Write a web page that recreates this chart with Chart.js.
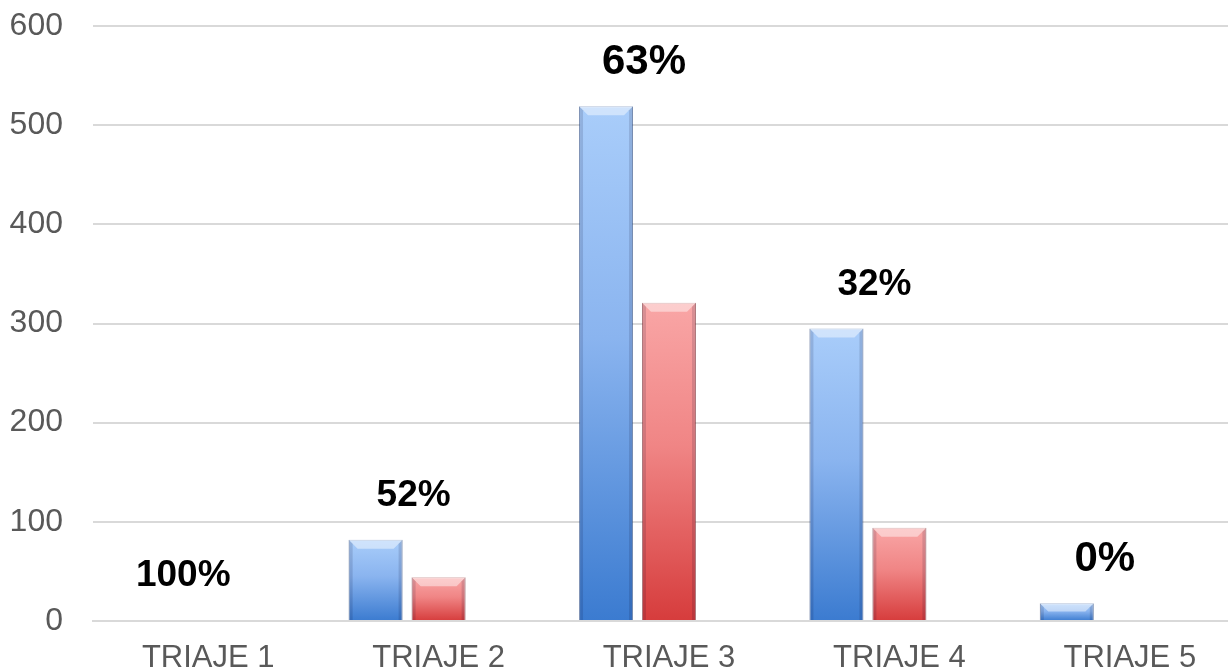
<!DOCTYPE html>
<html>
<head>
<meta charset="utf-8">
<script src="https://cdn.jsdelivr.net/npm/chart.js"></script>
<style>
  html, body { margin: 0; padding: 0; background: #fff; overflow: hidden; }
  canvas { display: block; }
</style>
</head>
<body>
<canvas id="triaje" width="1250" height="672"></canvas>
<script>
const categories = ['TRIAJE 1', 'TRIAJE 2', 'TRIAJE 3', 'TRIAJE 4', 'TRIAJE 5'];
const totalSeries = [1, 82, 519, 295, 18];
const ingresoSeries = [1, 44, 321, 94, 0];
const percentLabels = ['100%', '52%', '63%', '32%', '0%'];
const yTicks = [0, 100, 200, 300, 400, 500, 600];

const FONT = '"Liberation Sans", Arial, sans-serif';
// the 63% and 0% labels are drawn bigger in the original
const bigLabel = new Set([2, 4]);

// vertical gradient spanning each bar (Excel style)
function barGradient(ctx, light, mid, dark) {
    const chart = ctx.chart;
    if (!chart.chartArea || ctx.raw == null) return mid;
    const y = chart.scales.y;
    const top = y.getPixelForValue(ctx.raw);
    const base = y.getPixelForValue(0);
    if (base - top < 1) return mid;
    const g = chart.ctx.createLinearGradient(0, top, 0, base);
    g.addColorStop(0, light);
    g.addColorStop(0.45, mid);
    g.addColorStop(1, dark);
    return g;
}

const bevelPlugin = {
    id: 'bevel',
    afterDatasetsDraw(chart) {
        const ctx = chart.ctx;
        [0, 1].forEach(di => {
            chart.getDatasetMeta(di).data.forEach(bar => {
                const h = bar.base - bar.y;
                if (h < 3) return;
                const l = bar.x - bar.width / 2, r = bar.x + bar.width / 2;
                const b = Math.min(9, h / 2);
                ctx.save();
                ctx.fillStyle = 'rgba(255,255,255,0.45)';
                ctx.beginPath();
                ctx.moveTo(l, bar.y);
                ctx.lineTo(r, bar.y);
                ctx.lineTo(r - b, bar.y + b);
                ctx.lineTo(l + b, bar.y + b);
                ctx.closePath();
                ctx.fill();
                ctx.fillStyle = 'rgba(0,0,40,0.13)';
                ctx.beginPath();
                ctx.moveTo(r, bar.y);
                ctx.lineTo(r, bar.base);
                ctx.lineTo(r - 4, bar.base);
                ctx.lineTo(r - 4, bar.y + 4);
                ctx.closePath();
                ctx.fill();
                ctx.beginPath();
                ctx.moveTo(l, bar.y);
                ctx.lineTo(l, bar.base);
                ctx.lineTo(l + 4, bar.base);
                ctx.lineTo(l + 4, bar.y + 4);
                ctx.closePath();
                ctx.fill();
                ctx.restore();
            });
        });
    }
};

const percentPlugin = {
    id: 'percentLabels',
    afterDatasetsDraw(chart) {
        const ctx = chart.ctx;
        ctx.save();
        ctx.fillStyle = '#000';
        ctx.textAlign = 'center';
        ctx.textBaseline = 'middle';
        chart.getDatasetMeta(0).data.forEach((bar, i) => {
            ctx.font = 'bold ' + (bigLabel.has(i) ? 42 : 37) + 'px ' + FONT;
            ctx.fillText(percentLabels[i], bar.x + 38, bar.y - 44);
        });
        ctx.restore();
    }
};

new Chart(document.getElementById('triaje'), {
    type: 'bar',
    data: {
        labels: categories,
        datasets: [
            {
                label: 'Total',
                data: totalSeries,
                backgroundColor: c => barGradient(c, '#a9cdfa', '#8ab4ef', '#3b7bd0'),
                borderColor: 'rgba(60,100,160,0.6)',
                borderWidth: 1
            },
            {
                label: 'Ingreso',
                data: ingresoSeries,
                backgroundColor: c => barGradient(c, '#f9a6a6', '#f08585', '#d63c3c'),
                borderColor: 'rgba(160,60,60,0.6)',
                borderWidth: 1
            },
            {
                label: '',
                data: categories.map(() => null),
                backgroundColor: 'rgba(0,0,0,0)'
            }
        ]
    },
    options: {
        responsive: false,
        animation: false,
        categoryPercentage: 0.82,
        barPercentage: 0.857,
        layout: { padding: { top: 26, right: 5, bottom: 0, left: 0 } },
        plugins: {
            legend: { display: false },
            tooltip: { enabled: false }
        },
        scales: {
            x: {
                afterFit: s => { s.height = 51; s.paddingLeft = 0; s.paddingRight = 0; },
                grid: { display: false, drawTicks: false },
                border: { color: '#d9d9d9', width: 2 },
                ticks: {
                    color: '#595959',
                    padding: 22,
                    font: { family: FONT, size: 31, lineHeight: 1 }
                }
            },
            y: {
                min: 0,
                max: 600,
                afterBuildTicks: s => { s.ticks = yTicks.map(v => ({ value: v })); },
                afterFit: s => { s.width = 93; s.paddingTop = 0; s.paddingBottom = 0; },
                grid: { color: '#d9d9d9', lineWidth: 2, drawTicks: false },
                border: { display: false },
                ticks: {
                    color: '#595959',
                    padding: 30,
                    font: { family: FONT, size: 32 }
                }
            }
        }
    },
    plugins: [bevelPlugin, percentPlugin]
});
</script>
</body>
</html>
